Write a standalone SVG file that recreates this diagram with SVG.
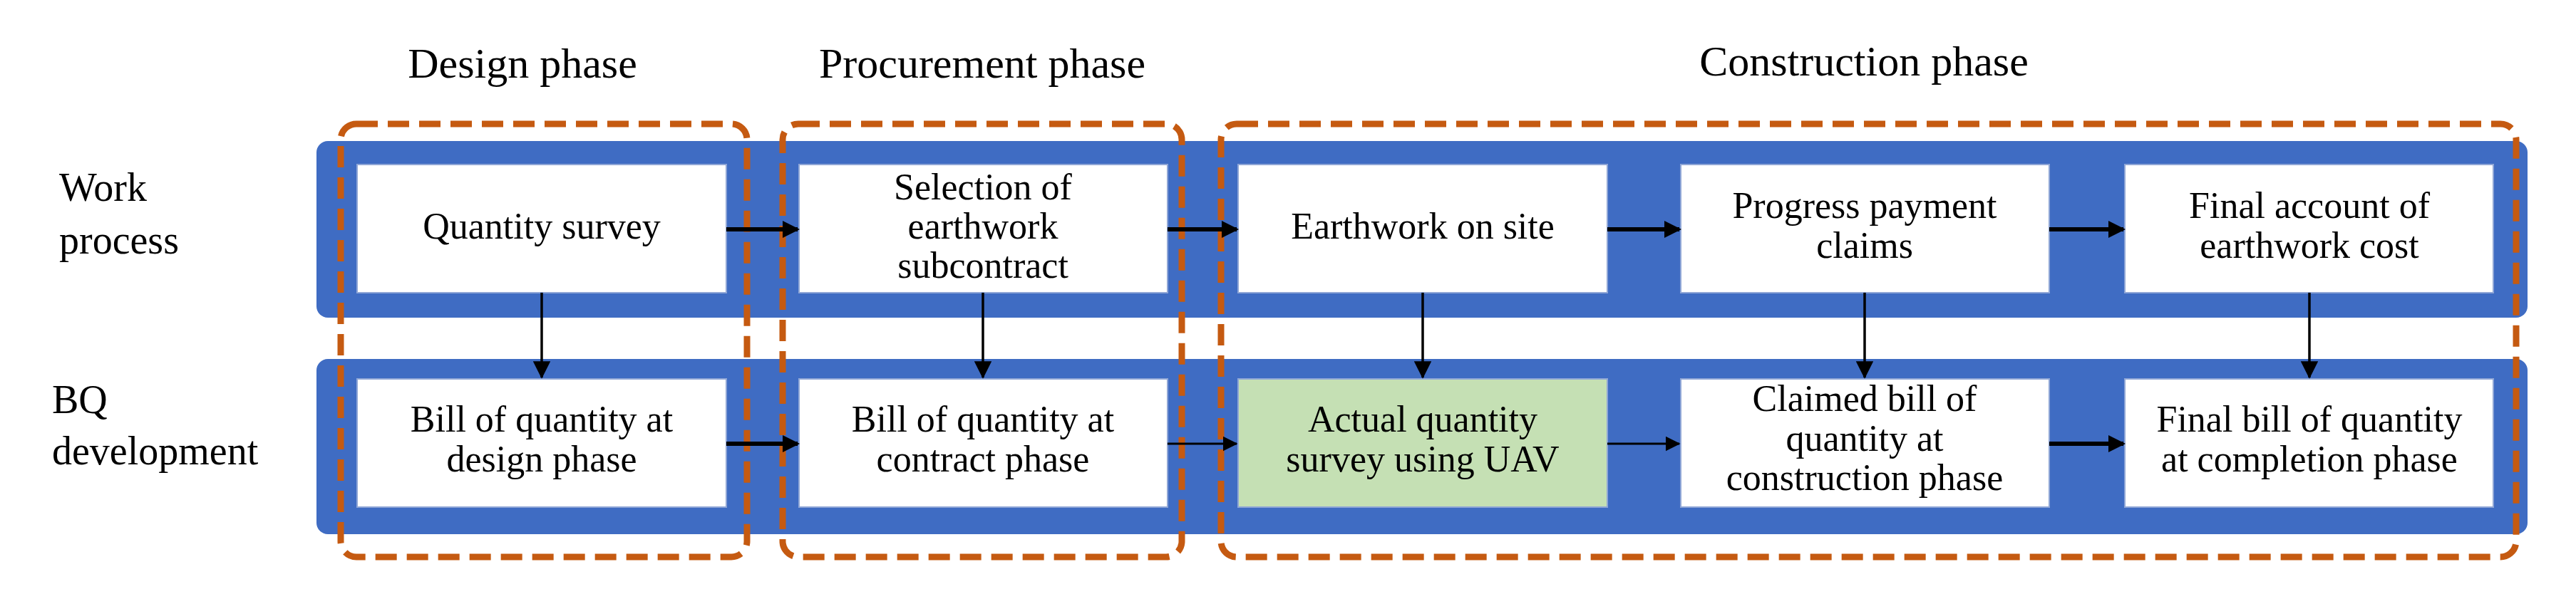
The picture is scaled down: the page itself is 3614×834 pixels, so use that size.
<svg xmlns="http://www.w3.org/2000/svg" width="3614" height="834" viewBox="0 0 3614 834">
<style>
text{font-family:"Liberation Serif","Times New Roman",serif;fill:#000}
.t{font-size:52px;text-anchor:middle}
.h{font-size:60px;text-anchor:middle}
.l{font-size:56px}
.band{fill:#3F6CC3}
.box{fill:#fff;stroke:#8FA6D6;stroke-width:2}
.grn{fill:#C5E0B4;stroke:#8FA6D6;stroke-width:2}
.ph{fill:none;stroke:#C55A11;stroke-width:9;stroke-dasharray:30 14}
.a{stroke:#000;stroke-width:6;fill:none;marker-end:url(#ah)}
.v{stroke:#000;stroke-width:3.5;fill:none;marker-end:url(#ah2)}
.a2{stroke:#000;stroke-width:3;fill:none;marker-end:url(#ah2)}
</style>
<defs>
<marker id="ah" markerWidth="4" markerHeight="4" refX="3.5" refY="2" orient="auto" markerUnits="strokeWidth"><path d="M0,0 L4,2 L0,4 z" fill="#000"/></marker>
<marker id="ah2" markerWidth="7" markerHeight="7" refX="6.5" refY="3.5" orient="auto" markerUnits="strokeWidth"><path d="M0,0 L7,3.5 L0,7 z" fill="#000"/></marker>
</defs>
<g id="bands">
<rect class="band" x="444" y="198" width="3102" height="248" rx="16"/>
<rect class="band" x="444" y="504" width="3102" height="246" rx="16"/>
</g>
<g id="labels">
<text class="l" x="83" y="282">Work</text><text class="l" x="83" y="356">process</text>
<text class="l" x="73" y="580">BQ</text><text class="l" x="73" y="652">development</text>
<text class="h" x="733" y="109">Design phase</text>
<text class="h" x="1378" y="109">Procurement phase</text>
<text class="h" x="2615" y="106">Construction phase</text>
</g>
<g id="n1"><rect class="box" x="501" y="231" width="518" height="180"/><text class="t" x="760" y="335">Quantity survey</text></g>
<g id="n2"><rect class="box" x="1121" y="231" width="517" height="180"/><text class="t" x="1379" y="280">Selection of</text><text class="t" x="1379" y="335">earthwork</text><text class="t" x="1379" y="390">subcontract</text></g>
<g id="n3"><rect class="box" x="1737" y="231" width="518" height="180"/><text class="t" x="1996" y="335">Earthwork on site</text></g>
<g id="n4"><rect class="box" x="2358" y="231" width="517" height="180"/><text class="t" x="2616" y="306">Progress payment</text><text class="t" x="2616" y="362">claims</text></g>
<g id="n5"><rect class="box" x="2981" y="231" width="517" height="180"/><text class="t" x="3240" y="306">Final account of</text><text class="t" x="3240" y="362">earthwork cost</text></g>
<g id="n6"><rect class="box" x="501" y="532" width="518" height="180"/><text class="t" x="760" y="606">Bill of quantity at</text><text class="t" x="760" y="662">design phase</text></g>
<g id="n7"><rect class="box" x="1121" y="532" width="517" height="180"/><text class="t" x="1379" y="606">Bill of quantity at</text><text class="t" x="1379" y="662">contract phase</text></g>
<g id="n8"><rect class="grn" x="1737" y="532" width="518" height="180"/><text class="t" x="1996" y="606">Actual quantity</text><text class="t" x="1996" y="662">survey using UAV</text></g>
<g id="n9"><rect class="box" x="2358" y="532" width="517" height="180"/><text class="t" x="2616" y="577">Claimed bill of</text><text class="t" x="2616" y="633">quantity at</text><text class="t" x="2616" y="688">construction phase</text></g>
<g id="n10"><rect class="box" x="2981" y="532" width="517" height="180"/><text class="t" x="3240" y="606">Final bill of quantity</text><text class="t" x="3240" y="662">at completion phase</text></g>
<g id="phases">
<rect class="ph" x="478" y="174" width="570" height="608" rx="22"/>
<rect class="ph" x="1098" y="174" width="560" height="608" rx="22"/>
<rect class="ph" x="1713" y="174" width="1817" height="608" rx="22"/>
</g>
<g id="connectors">
<line class="a" x1="1019" y1="322" x2="1119" y2="322"/>
<line class="a" x1="1638" y1="322" x2="1735" y2="322"/>
<line class="a" x1="2255" y1="322" x2="2356" y2="322"/>
<line class="a" x1="2875" y1="322" x2="2979" y2="322"/>
<line class="a" x1="1019" y1="623" x2="1119" y2="623"/>
<line class="a2" x1="1638" y1="623" x2="1735" y2="623"/>
<line class="a2" x1="2255" y1="623" x2="2356" y2="623"/>
<line class="a" x1="2875" y1="623" x2="2979" y2="623"/>
<line class="v" x1="760" y1="411" x2="760" y2="530"/>
<line class="v" x1="1379" y1="411" x2="1379" y2="530"/>
<line class="v" x1="1996" y1="411" x2="1996" y2="530"/>
<line class="v" x1="2616" y1="411" x2="2616" y2="530"/>
<line class="v" x1="3240" y1="411" x2="3240" y2="530"/>
</g>
</svg>
